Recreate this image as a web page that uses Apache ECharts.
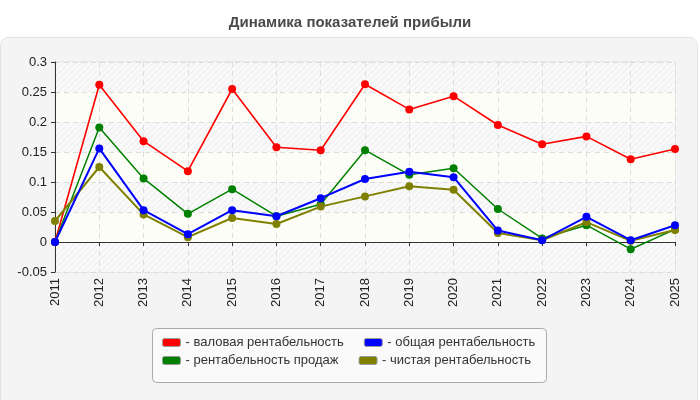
<!DOCTYPE html>
<html>
<head>
<meta charset="utf-8">
<script src="https://cdn.jsdelivr.net/npm/echarts@6/dist/echarts.min.js"></script>
<style>
html,body{margin:0;padding:0;background:#fff;}
#main{width:700px;height:400px;}
</style>
</head>
<body>
<div id="main"></div>
<script>
var years = ['2011','2012','2013','2014','2015','2016','2017','2018','2019','2020','2021','2022','2023','2024','2025'];
var names = ['валовая рентабельность','общая рентабельность','рентабельность продаж','чистая рентабельность'];
var gross = [0, 0.262, 0.168, 0.118, 0.255, 0.158, 0.153, 0.263, 0.221, 0.243, 0.195, 0.163, 0.176, 0.138, 0.155];
var total = [0, 0.156, 0.053, 0.013, 0.053, 0.043, 0.073, 0.105, 0.117, 0.108, 0.019, 0.003, 0.042, 0.003, 0.028];
var sales = [0, 0.191, 0.106, 0.047, 0.088, 0.043, 0.063, 0.153, 0.112, 0.123, 0.055, 0.006, 0.028, -0.012, 0.021];
var net = [0.035, 0.125, 0.046, 0.008, 0.040, 0.030, 0.059, 0.076, 0.093, 0.087, 0.015, 0.003, 0.033, 0.002, 0.020];
var colors = ['#ff0000', '#0000ff', '#008000', '#808000'];

// hatched band for the plot background
function hatch() {
	var c = document.createElement('canvas');
	c.width = 6; c.height = 6;
	var g = c.getContext('2d');
	g.fillStyle = '#f9f9f9';
	g.fillRect(0, 0, 6, 6);
	g.strokeStyle = '#ececec';
	g.lineWidth = 1;
	g.beginPath();
	g.moveTo(-1, 7); g.lineTo(7, -1);
	g.moveTo(5, 7); g.lineTo(7, 5);
	g.moveTo(-1, 1); g.lineTo(1, -1);
	g.stroke();
	return {image: c, repeat: 'repeat'};
}

function line(name, data, color, w) {
	return {
		name: name, type: 'line', data: data,
		symbol: 'circle', symbolSize: 8,
		lineStyle: {color: color, width: w},
		itemStyle: {color: color},
		emphasis: {disabled: true}
	};
}

function legendRow(top, data) {
	return {
		top: top, left: 162, orient: 'horizontal', padding: 0,
		data: data, itemWidth: 18, itemHeight: 8, itemGap: 20,
		icon: 'roundRect', selectedMode: false,
		itemStyle: {borderColor: '#999', borderWidth: 1},
		formatter: function (n) { return '- ' + n; },
		textStyle: {fontSize: 13, color: '#333', width: 158, fontFamily: 'Liberation Sans'}
	};
}

echarts.init(document.getElementById('main')).setOption({
	animation: false,
	color: colors,
	title: {
		text: 'Динамика показателей прибыли', left: 'center', top: 10,
		textStyle: {fontSize: 15, fontWeight: 'bold', color: '#4a4a4a', fontFamily: 'Liberation Sans'}
	},
	graphic: [
		{type: 'rect', z: -10, shape: {x: 0.5, y: 37.5, width: 697, height: 380, r: 8},
			style: {fill: '#f4f4f4', stroke: '#e2e2e2', lineWidth: 1}},
		{type: 'rect', z: -5, shape: {x: 152.5, y: 328.5, width: 394, height: 54, r: 4},
			style: {fill: '#fafafa', stroke: '#aaa', lineWidth: 1}}
	],
	legend: [
		legendRow(336, [names[0], names[1]]),
		legendRow(354, [names[2], names[3]])
	],
	grid: {left: 55, right: 25, top: 62, bottom: 128, show: true, borderColor: '#ddd', backgroundColor: 'transparent'},
	xAxis: {
		type: 'category', data: years, boundaryGap: false,
		axisLine: {lineStyle: {color: '#333'}},
		axisTick: {show: true, lineStyle: {color: '#333'}, length: 4},
		axisLabel: {rotate: 90, color: '#222', fontSize: 13, margin: 6, fontFamily: 'Liberation Sans'},
		splitLine: {show: true, lineStyle: {color: '#ddd', type: [5, 4]}}
	},
	yAxis: {
		type: 'value', min: -0.05, max: 0.3, interval: 0.05,
		axisLine: {show: true, lineStyle: {color: '#333'}},
		axisTick: {show: true, lineStyle: {color: '#333'}, length: 4},
		axisLabel: {color: '#222', fontSize: 13, margin: 8, fontFamily: 'Liberation Sans',
			formatter: function (v) { return String(Math.round(v * 100) / 100); }},
		splitLine: {show: true, lineStyle: {color: '#ddd', type: [5, 4]}},
		splitArea: {show: true, areaStyle: {color: [hatch(), '#fdfdf7']}}
	},
	series: [
		line(names[0], gross, colors[0], 1.6),
		line(names[2], sales, colors[2], 1.5),
		line(names[3], net, colors[3], 2),
		line(names[1], total, colors[1], 2)
	]
});
</script>
</body>
</html>
